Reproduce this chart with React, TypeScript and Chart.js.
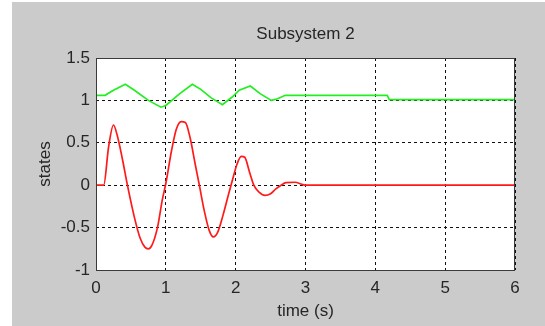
import React, { useEffect, useRef } from "react";
import { Chart, registerables } from "chart.js";

Chart.register(...registerables);

const titleText = "Subsystem 2";
const xLabel = "time (s)";
const yLabel = "states";

const xTicks = [0, 1, 2, 3, 4, 5, 6];
const yTicks = [-1, -0.5, 0, 0.5, 1, 1.5];
const yTickLabels = ["-1", "-0.5", "0", "0.5", "1", "1.5"];

const redTime = [0, 0.11, 0.18, 0.25, 0.3, 0.38, 0.45, 0.55, 0.63, 0.7, 0.75, 0.8, 0.88, 0.95, 1.0, 1.08, 1.15, 1.22, 1.28, 1.35, 1.42, 1.48, 1.55, 1.62, 1.68, 1.74, 1.82, 1.9, 1.95, 2.02, 2.08, 2.13, 2.2, 2.26, 2.33, 2.42, 2.5, 2.58, 2.65, 2.72, 2.85, 2.95, 3.0, 6.0];
const redValues = [0, 0, 0.45, 0.71, 0.6, 0.3, 0, -0.38, -0.62, -0.73, -0.75, -0.71, -0.5, -0.17, 0.02, 0.4, 0.66, 0.75, 0.74, 0.55, 0.25, 0, -0.3, -0.53, -0.61, -0.56, -0.35, -0.1, 0.05, 0.25, 0.34, 0.33, 0.15, 0, -0.08, -0.12, -0.1, -0.04, 0, 0.03, 0.035, 0.01, 0, 0];

const greenTime = [0, 0.13, 0.25, 0.42, 0.55, 0.75, 0.93, 1.0, 1.2, 1.38, 1.5, 1.65, 1.81, 1.95, 2.05, 2.21, 2.35, 2.51, 2.6, 2.71, 3.0, 4.17, 4.2, 6.0];
const greenValues = [1.06, 1.06, 1.12, 1.19, 1.12, 1.0, 0.92, 0.94, 1.08, 1.19, 1.13, 1.03, 0.95, 1.04, 1.12, 1.17, 1.08, 1.0, 1.02, 1.06, 1.06, 1.06, 1.01, 1.01];

const FONT = '"Liberation Sans", Arial, Helvetica, sans-serif';
const TEXT = "#262626";

const plotFrame = {
  id: "plotFrame",
  beforeDraw(chart: any) {
    const { ctx, chartArea: a } = chart;
    ctx.save();
    ctx.fillStyle = "#ffffff";
    ctx.fillRect(a.left, a.top, a.right - a.left, a.bottom - a.top);
    ctx.restore();
  },
  afterDraw(chart: any) {
    const { ctx, chartArea: a } = chart;
    ctx.save();
    ctx.strokeStyle = "#3a3a3a";
    ctx.lineWidth = 1;
    ctx.setLineDash([]);
    ctx.strokeRect(Math.round(a.left) + 0.5, Math.round(a.top) + 0.5, Math.round(a.right - a.left) - 1, Math.round(a.bottom - a.top));
    ctx.restore();
  },
};

export default function App() {
  const ref = useRef<HTMLCanvasElement | null>(null);

  useEffect(() => {
    if (!ref.current) return;
    const chart = new Chart(ref.current, {
      type: "line",
      data: {
        datasets: [
          {
            label: "x2",
            data: redTime.map((t, i) => ({ x: t, y: redValues[i] })),
            borderColor: "#ff1a1a",
            borderWidth: 1.7,
            pointRadius: 0,
            cubicInterpolationMode: "monotone",
            fill: false,
          },
          {
            label: "x1",
            data: greenTime.map((t, i) => ({ x: t, y: greenValues[i] })),
            borderColor: "#22ee22",
            borderWidth: 1.7,
            pointRadius: 0,
            tension: 0,
            fill: false,
          },
        ],
      },
      options: {
        animation: false,
        responsive: false,
        events: [],
        layout: { padding: { left: 0, right: 30, top: 0, bottom: 0 } },
        plugins: {
          legend: { display: false },
          tooltip: { enabled: false },
          title: {
            display: true,
            text: titleText,
            fullSize: false,
            color: TEXT,
            font: { family: FONT, size: 17, weight: "normal" },
            padding: { top: 23.8, bottom: 13.8 },
          },
        },
        scales: {
          x: {
            type: "linear",
            min: 0,
            max: 6,
            afterBuildTicks: (s: any) => {
              s.ticks = xTicks.map((v) => ({ value: v }));
            },
            afterFit: (s: any) => {
              s.height = 56;
            },
            ticks: {
              color: TEXT,
              padding: 8,
              font: { family: FONT, size: 17 },
              maxRotation: 0,
              callback: (v: any) => String(v),
            },
            grid: { color: "#111111", lineWidth: 1, drawTicks: false },
            border: { display: false, dash: [3, 3] },
            title: {
              display: true,
              text: xLabel,
              color: TEXT,
              font: { family: FONT, size: 17 },
              padding: { top: 0, bottom: 4.8 },
            },
          },
          y: {
            type: "linear",
            min: -1,
            max: 1.5,
            afterBuildTicks: (s: any) => {
              s.ticks = yTicks.map((v) => ({ value: v }));
            },
            afterFit: (s: any) => {
              s.width = 96;
            },
            ticks: {
              color: TEXT,
              padding: 6,
              font: { family: FONT, size: 17 },
              callback: (v: any) => {
                const i = yTicks.indexOf(Number(v));
                return i >= 0 ? yTickLabels[i] : String(v);
              },
            },
            grid: { color: "#111111", lineWidth: 1, drawTicks: false },
            border: { display: false, dash: [3, 3] },
            title: {
              display: true,
              text: yLabel,
              color: TEXT,
              font: { family: FONT, size: 17 },
              padding: { top: 34.8, bottom: 0 },
            },
          },
        },
      },
      plugins: [plotFrame],
    });
    return () => chart.destroy();
  }, []);

  return (
    <div style={{ position: "absolute", left: 0, top: 0, width: 545, height: 326, background: "#ffffff", overflow: "hidden" }}>
      <div style={{ position: "absolute", left: 12, top: 2, width: 533, height: 324, background: "#cbcbcb" }} />
      <canvas ref={ref} width={545} height={326} style={{ position: "absolute", left: 0, top: 0, width: 545, height: 326 }} />
    </div>
  );
}
